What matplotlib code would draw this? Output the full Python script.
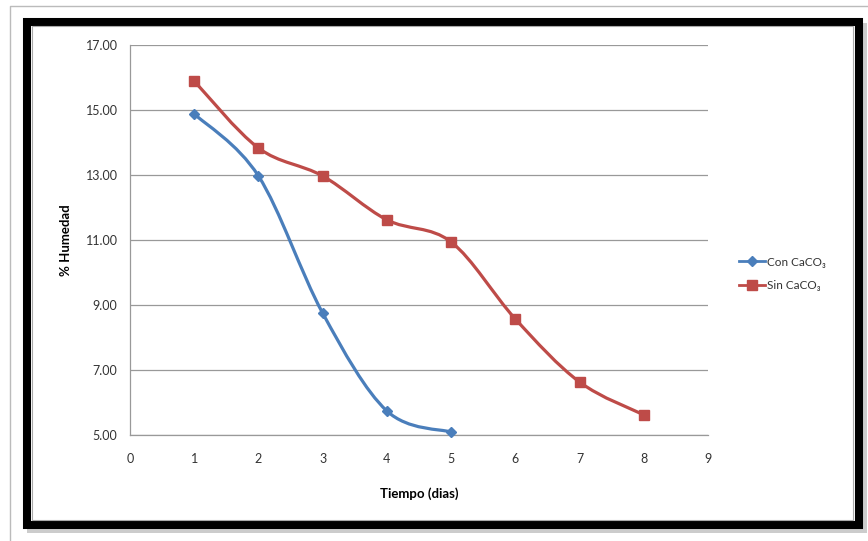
import numpy as np
import matplotlib
matplotlib.use("Agg")
import matplotlib.pyplot as plt
from matplotlib.path import Path
from matplotlib.patches import PathPatch, Rectangle
from matplotlib.lines import Line2D

plt.rcParams['font.family'] = ['Lato', 'DejaVu Sans']

# data
dias_con = [1, 2, 3, 4, 5]
humedad_con = [14.88, 12.97, 8.75, 5.74, 5.09]
dias_sin = [1, 2, 3, 4, 5, 6, 7, 8]
humedad_sin = [15.89, 13.83, 12.97, 11.62, 10.94, 8.57, 6.63, 5.62]

x_ticks = list(range(0, 10))
y_ticks = [5, 7, 9, 11, 13, 15, 17]

BLUE = '#4A7EBB'
RED = '#BE4B48'
W, H = 868, 541


def smooth_path(xs, ys):
    # excel style smoothed line: bezier with catmull-rom control points
    pts = np.column_stack([xs, ys]).astype(float)
    n = len(pts)
    verts = [pts[0]]
    codes = [Path.MOVETO]
    for i in range(n - 1):
        p0 = pts[i - 1] if i > 0 else pts[i]
        p1 = pts[i]
        p2 = pts[i + 1]
        p3 = pts[i + 2] if i + 2 < n else pts[i + 1]
        c1 = p1 + (p2 - p0) / 6.0
        c2 = p2 - (p3 - p1) / 6.0
        verts += [c1, c2, p2]
        codes += [Path.CURVE4] * 3
    return Path(verts, codes)


def fx(px):
    return px / W


def fy(py):
    return 1 - py / H


fig = plt.figure(figsize=(W / 100, H / 100), dpi=100)
fig.patch.set_facecolor('white')

# outer thin frame
fig.add_artist(Line2D([fx(10), fx(10), fx(868)], [fy(541), fy(6), fy(6)],
                      color='#BBBBBB', lw=1.0, zorder=-5))
# shadow
fig.add_artist(Rectangle((fx(27), fy(533)), fx(840), fy(0) - fy(510),
                         facecolor='#AAAAAA', edgecolor='none', alpha=0.6,
                         zorder=-4))
# black frame
fig.add_artist(Rectangle((fx(27), fy(525)), fx(832), fy(0) - fy(503),
                         facecolor='white', edgecolor='black', lw=5.8,
                         zorder=-3))
# inner gray line
fig.add_artist(Rectangle((fx(32), fy(520)), fx(821), fy(0) - fy(494),
                         facecolor='none', edgecolor='#AAAAAA', lw=0.8,
                         zorder=-2))

ax = fig.add_axes([fx(130), fy(435), fx(708) - fx(130), fy(45) - fy(435)])
ax.set_zorder(5)
ax.set_facecolor('none')
ax.set_xlim(0, 9)
ax.set_ylim(5, 17)
ax.set_xticks(x_ticks)
ax.set_yticks(y_ticks)
ax.set_yticklabels(['%.2f' % v for v in y_ticks])
ax.tick_params(axis='both', length=0, labelsize=9, colors='#333333')
ax.tick_params(axis='x', pad=13)
ax.tick_params(axis='y', pad=9)
ax.grid(axis='y', color='#999999', lw=0.9)
ax.set_axisbelow(True)
for s in ['top', 'right']:
    ax.spines[s].set_visible(False)
for s in ['left', 'bottom']:
    ax.spines[s].set_color('#999999')
    ax.spines[s].set_linewidth(0.9)

ax.add_patch(PathPatch(smooth_path(dias_con, humedad_con), facecolor='none',
                       edgecolor=BLUE, lw=2.3, clip_on=False, zorder=3))
ax.add_patch(PathPatch(smooth_path(dias_sin, humedad_sin), facecolor='none',
                       edgecolor=RED, lw=2.3, clip_on=False, zorder=3))
ax.plot(dias_con, humedad_con, linestyle='none', marker='D', ms=5.5,
        color=BLUE, clip_on=False, zorder=5)
ax.plot(dias_sin, humedad_sin, linestyle='none', marker='s', ms=7,
        color=RED, clip_on=False, zorder=5)

ax.set_xlabel('Tiempo (dias)', fontsize=9.5, fontweight='bold', labelpad=16)
ax.set_ylabel('% Humedad', fontsize=9.5, fontweight='bold', labelpad=10)

handles = [Line2D([], [], color=BLUE, lw=2.0, marker='D', ms=5),
           Line2D([], [], color=RED, lw=2.0, marker='s', ms=7)]
leg = fig.legend(handles, ['Con CaCO₃', 'Sin CaCO₃'], loc='center left',
                 bbox_to_anchor=(fx(728), fy(274)), frameon=False, fontsize=8.5,
                 handlelength=2.2, handletextpad=0.2, labelspacing=1.1,
                 labelcolor='#333333')
leg.set_zorder(6)

fig.savefig('out.png', dpi=100)
